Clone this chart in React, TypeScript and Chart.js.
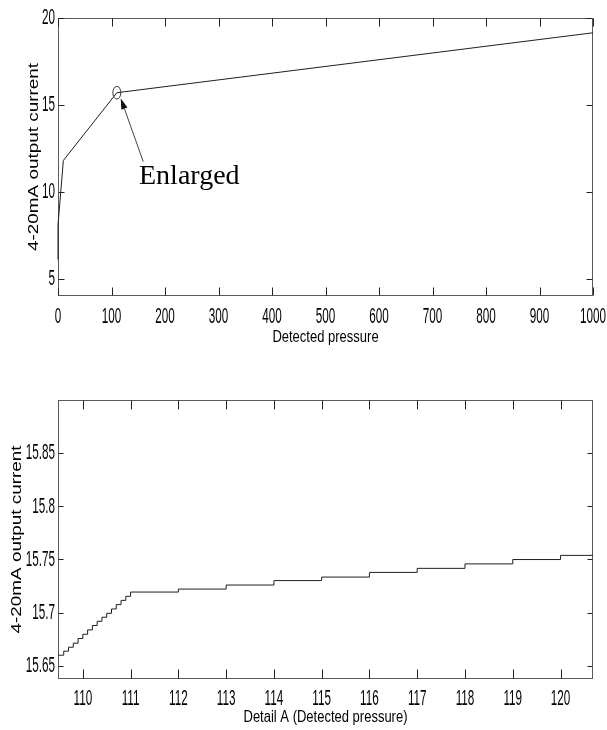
import React, { useEffect, useRef } from "react";
import { Chart, registerables } from "chart.js";

Chart.register(...registerables);

// ---------- data ----------
const overviewPressure = [0, 0, 10, 110, 1000];
const overviewCurrent = [6.1, 8.1, 11.8, 15.7, 19.15];
const overviewXTicks = [0, 100, 200, 300, 400, 500, 600, 700, 800, 900, 1000];
const overviewXLabels = ["0", "100", "200", "300", "400", "500", "600", "700", "800", "900", "1000"];
const overviewYTicks = [5, 10, 15, 20];
const overviewYLabels = ["5", "10", "15", "20"];

const detailPressure = [
  109.4, 109.6, 109.7, 109.8, 109.9, 110.0, 110.1, 110.2, 110.3, 110.4, 110.5, 110.6, 110.7, 110.8,
  110.9, 111.0, 112, 113, 114, 115, 116, 117, 118, 119, 120, 120.8,
];
const detailCurrent = [
  15.6599, 15.6637, 15.6674, 15.6712, 15.6756, 15.6796, 15.6837, 15.6878, 15.6918, 15.6956, 15.6993,
  15.7034, 15.7075, 15.7115, 15.7153, 15.7193, 15.7221, 15.7259, 15.7301, 15.7334, 15.7378, 15.7416,
  15.7458, 15.7499, 15.7538, 15.7538,
];
const detailXTicks = [110, 111, 112, 113, 114, 115, 116, 117, 118, 119, 120];
const detailXLabels = ["110", "111", "112", "113", "114", "115", "116", "117", "118", "119", "120"];
const detailYTicks = [15.65, 15.7, 15.75, 15.8, 15.85];
const detailYLabels = ["15.65", "15.7", "15.75", "15.8", "15.85"];

// annotation anchors (data coordinates of the overview chart)
const enlargedCircle = { x: 110, y: 15.7 };
const arrowTail = { x: 159.4, y: 11.73 };
const arrowTip = { x: 117.2, y: 15.38 };
const enlargedText = { x: 151.4, y: 10.45, text: "Enlarged" };

// ---------- drawing helpers ----------
const TICK_FONT = "13px 'Liberation Sans', Arial, Helvetica, sans-serif";
const TITLE_FONT = "13px 'Liberation Sans', Arial, Helvetica, sans-serif";
const YTITLE_FONT = "14px 'Liberation Sans', Arial, Helvetica, sans-serif";

function stretchedText(
  ctx: CanvasRenderingContext2D,
  text: string,
  x: number,
  y: number,
  font: string,
  sx: number,
  sy: number,
  align: CanvasTextAlign,
  baseline: CanvasTextBaseline,
  angle = 0
) {
  ctx.save();
  ctx.translate(x, y);
  if (angle) ctx.rotate(angle);
  ctx.scale(sx, sy);
  ctx.font = font;
  ctx.fillStyle = "#000";
  ctx.textAlign = align;
  ctx.textBaseline = baseline;
  ctx.fillText(text, 0, 0);
  ctx.restore();
}

const matlabAxes = {
  id: "matlabAxes",
  beforeDatasetsDraw(chart: any, _args: any, opts: any) {
    const { ctx, chartArea: a } = chart;
    const xs = chart.scales.x;
    const ys = chart.scales.y;
    ctx.save();
    ctx.lineWidth = 1;
    ctx.strokeStyle = "#5a5a5a";
    const l = Math.round(a.left) + 0.5;
    const t = Math.round(a.top) + 0.5;
    const r = Math.round(a.right) - 0.5;
    const b = Math.round(a.bottom) - 0.5;
    ctx.strokeRect(l, t, r - l, b - t);
    ctx.strokeStyle = "#222";
    ctx.beginPath();
    for (const v of opts.xTicks) {
      const px = Math.round(xs.getPixelForValue(v)) + 0.5;
      ctx.moveTo(px, b);
      ctx.lineTo(px, b - opts.xTickLen);
      ctx.moveTo(px, t);
      ctx.lineTo(px, t + opts.xTickLen);
    }
    for (const v of opts.yTicks) {
      const py = Math.round(ys.getPixelForValue(v)) + 0.5;
      ctx.moveTo(l, py);
      ctx.lineTo(l + opts.yTickLen, py);
      ctx.moveTo(r, py);
      ctx.lineTo(r - opts.yTickLen, py);
    }
    ctx.stroke();
    ctx.restore();
  },
  afterDraw(chart: any, _args: any, opts: any) {
    const { ctx, chartArea: a } = chart;
    const xs = chart.scales.x;
    const ys = chart.scales.y;
    // tick labels
    opts.xTicks.forEach((v: number, i: number) => {
      stretchedText(ctx, opts.xLabels[i], xs.getPixelForValue(v), a.bottom + opts.xLabelOffset, TICK_FONT, 0.9, 1.75, "center", "middle");
    });
    opts.yTicks.forEach((v: number, i: number) => {
      stretchedText(ctx, opts.yLabels[i], a.left - 3, ys.getPixelForValue(v), TICK_FONT, 0.9, 1.75, "right", "middle");
    });
    // titles
    stretchedText(ctx, opts.xTitle, (a.left + a.right) / 2, a.bottom + opts.xTitleBaseline, TITLE_FONT, 1, 1.26, "center", "alphabetic");
    stretchedText(ctx, opts.yTitle, opts.yTitleX, (a.top + a.bottom) / 2, YTITLE_FONT, 1.35, 1, "center", "alphabetic", -Math.PI / 2);

    // annotation
    const ann = opts.annotation;
    if (ann) {
      ctx.save();
      const cx = xs.getPixelForValue(ann.circle.x);
      const cy = ys.getPixelForValue(ann.circle.y);
      ctx.strokeStyle = "#333";
      ctx.lineWidth = 1;
      ctx.beginPath();
      ctx.ellipse(cx, cy, 4, 6.3, 0, 0, Math.PI * 2);
      ctx.stroke();

      const tx = xs.getPixelForValue(ann.tail.x);
      const ty = ys.getPixelForValue(ann.tail.y);
      const hx = xs.getPixelForValue(ann.tip.x);
      const hy = ys.getPixelForValue(ann.tip.y);
      const ang = Math.atan2(hy - ty, hx - tx);
      const headLen = 11;
      const headW = 3.2;
      const bx = hx - headLen * Math.cos(ang);
      const by = hy - headLen * Math.sin(ang);
      ctx.strokeStyle = "#444";
      ctx.beginPath();
      ctx.moveTo(tx, ty);
      ctx.lineTo(bx, by);
      ctx.stroke();
      ctx.fillStyle = "#111";
      ctx.beginPath();
      ctx.moveTo(hx, hy);
      ctx.lineTo(bx + headW * Math.sin(ang), by - headW * Math.cos(ang));
      ctx.lineTo(bx - headW * Math.sin(ang), by + headW * Math.cos(ang));
      ctx.closePath();
      ctx.fill();

      ctx.font = "28px 'Liberation Serif', 'Times New Roman', Times, serif";
      ctx.fillStyle = "#000";
      ctx.textAlign = "left";
      ctx.textBaseline = "alphabetic";
      ctx.fillText(ann.text.text, xs.getPixelForValue(ann.text.x), ys.getPixelForValue(ann.text.y));
      ctx.restore();
    }
  },
};

type PanelProps = {
  height: number;
  xs: number[];
  ys: number[];
  stepped: boolean;
  clip: boolean;
  xMin: number;
  xMax: number;
  yMin: number;
  yMax: number;
  padTop: number;
  xAxisHeight: number;
  axes: any;
};

function Panel(p: PanelProps) {
  const ref = useRef<HTMLCanvasElement | null>(null);
  useEffect(() => {
    if (!ref.current) return;
    const chart = new Chart(ref.current, {
      type: "line",
      data: {
        datasets: [
          {
            data: p.xs.map((x, i) => ({ x, y: p.ys[i] })),
            borderColor: "#1e1e1e",
            borderWidth: 1,
            pointRadius: 0,
            tension: 0,
            stepped: p.stepped,
            fill: false,
            clip: p.clip ? 0 : false,
          } as any,
        ],
      },
      options: {
        responsive: false,
        animation: false,
        devicePixelRatio: 1,
        layout: { padding: { top: p.padTop, right: 14, left: 0, bottom: 0 } },
        plugins: {
          legend: { display: false },
          tooltip: { enabled: false },
          matlabAxes: p.axes,
        } as any,
        scales: {
          x: {
            type: "linear",
            min: p.xMin,
            max: p.xMax,
            grid: { display: false },
            border: { display: false },
            ticks: { display: false },
            afterFit: (s: any) => {
              s.height = p.xAxisHeight;
            },
          },
          y: {
            type: "linear",
            min: p.yMin,
            max: p.yMax,
            grid: { display: false },
            border: { display: false },
            ticks: { display: false },
            afterFit: (s: any) => {
              s.width = 58;
            },
          },
        },
      },
      plugins: [matlabAxes],
    });
    return () => chart.destroy();
  }, []);
  return <canvas ref={ref} width={607} height={p.height} style={{ display: "block" }} />;
}

export default function App() {
  return (
    <div style={{ position: "absolute", left: 0, top: 0, width: 607, height: 730, background: "#fff" }}>
      <Panel
        height={365}
        xs={overviewPressure}
        ys={overviewCurrent}
        stepped={false}
        clip={false}
        xMin={0}
        xMax={1000}
        yMin={4}
        yMax={20}
        padTop={18}
        xAxisHeight={69}
        axes={{
          xTicks: overviewXTicks,
          xLabels: overviewXLabels,
          yTicks: overviewYTicks,
          yLabels: overviewYLabels,
          xTickLen: 8,
          yTickLen: 6,
          xLabelOffset: 21,
          xTitleBaseline: 46,
          xTitle: "Detected pressure",
          yTitle: "4-20mA output current",
          yTitleX: 37.5,
          annotation: { circle: enlargedCircle, tail: arrowTail, tip: arrowTip, text: enlargedText },
        }}
      />
      <Panel
        height={365}
        xs={detailPressure}
        ys={detailCurrent}
        stepped={true}
        clip={true}
        xMin={109.48}
        xMax={120.68}
        yMin={15.6375}
        yMax={15.9}
        padTop={35}
        xAxisHeight={51}
        axes={{
          xTicks: detailXTicks,
          xLabels: detailXLabels,
          yTicks: detailYTicks,
          yLabels: detailYLabels,
          xTickLen: 9,
          yTickLen: 5,
          xLabelOffset: 20,
          xTitleBaseline: 43,
          xTitle: "Detail A (Detected pressure)",
          yTitle: "4-20mA output current",
          yTitleX: 21,
          annotation: null,
        }}
      />
    </div>
  );
}
